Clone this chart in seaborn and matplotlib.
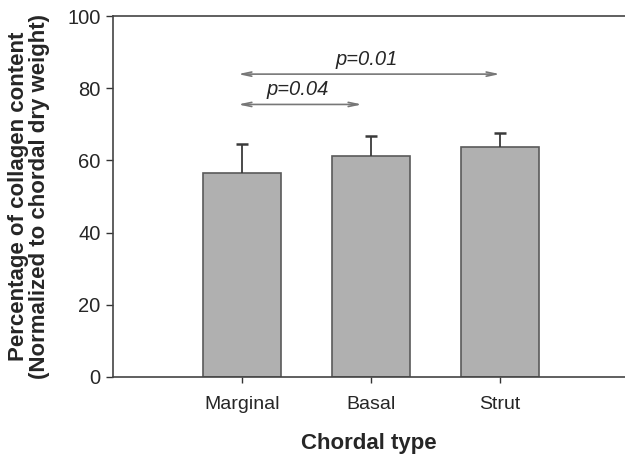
import matplotlib
matplotlib.use("Agg")
import matplotlib.pyplot as plt
import seaborn as sns
import pandas as pd
import numpy as np

categories = ["Marginal", "Basal", "Strut"]
means = [56.6, 61.3, 63.7]
sd_upper = [8.0, 5.5, 3.9]
yticks = [0, 20, 40, 60, 80, 100]

sns.set_style("ticks")
plt.rcParams['font.family'] = ['Liberation Sans', 'DejaVu Sans']

df = pd.DataFrame({"type": categories, "value": means})

fig = plt.figure(figsize=(6.25, 4.55), dpi=100)
ax = fig.add_axes([113/625, 1-377/455, 512/625, (377-16)/455])

sns.barplot(data=df, x="type", y="value", ax=ax, color="#b0b0b0",
            edgecolor="#5a5a5a", linewidth=1.2, width=0.6, errorbar=None,
            saturation=1)
eb = ax.errorbar(np.arange(len(categories)), means,
                 yerr=[np.zeros(len(means)), sd_upper], fmt="none",
                 ecolor="#3a3a3a", elinewidth=1.3, capsize=4, capthick=1.8)
eb[1][0].set_visible(False)

ax.set_xlim(-1, 2.97)
ax.set_ylim(0, 100)
ax.set_yticks(yticks)
ax.set_yticklabels([str(v) for v in yticks], fontsize=14.5)
ax.tick_params(axis='x', labelsize=14, length=4, width=1, color="#333333", pad=10)
ax.tick_params(axis='y', length=5, width=1, color="#333333", pad=4)

for s in ["left", "bottom", "top"]:
    ax.spines[s].set_color("#444444")
    ax.spines[s].set_linewidth(1.2)
ax.spines["right"].set_visible(False)

ax.set_xlabel("Chordal type", fontsize=16, fontweight="bold", labelpad=14)
ax.set_ylabel("Percentage of collagen content\n(Normalized to chordal dry weight)",
              fontsize=16, fontweight="bold", labelpad=12, linespacing=1.0)

arrow_kw = dict(arrowstyle="<->,head_length=0.7,head_width=0.15",
                color="#777777", lw=1.2, shrinkA=0, shrinkB=0)
ax.annotate("", xy=(-0.03, 83.9), xytext=(2.0, 83.9), arrowprops=arrow_kw)
ax.annotate("", xy=(-0.03, 75.5), xytext=(0.93, 75.5), arrowprops=arrow_kw)
ax.text(0.97, 85.3, "p=0.01", fontsize=14.5, style="italic", ha="center", va="bottom")
ax.text(0.43, 77.0, "p=0.04", fontsize=14.5, style="italic", ha="center", va="bottom")

fig.savefig("out.png", dpi=100)
